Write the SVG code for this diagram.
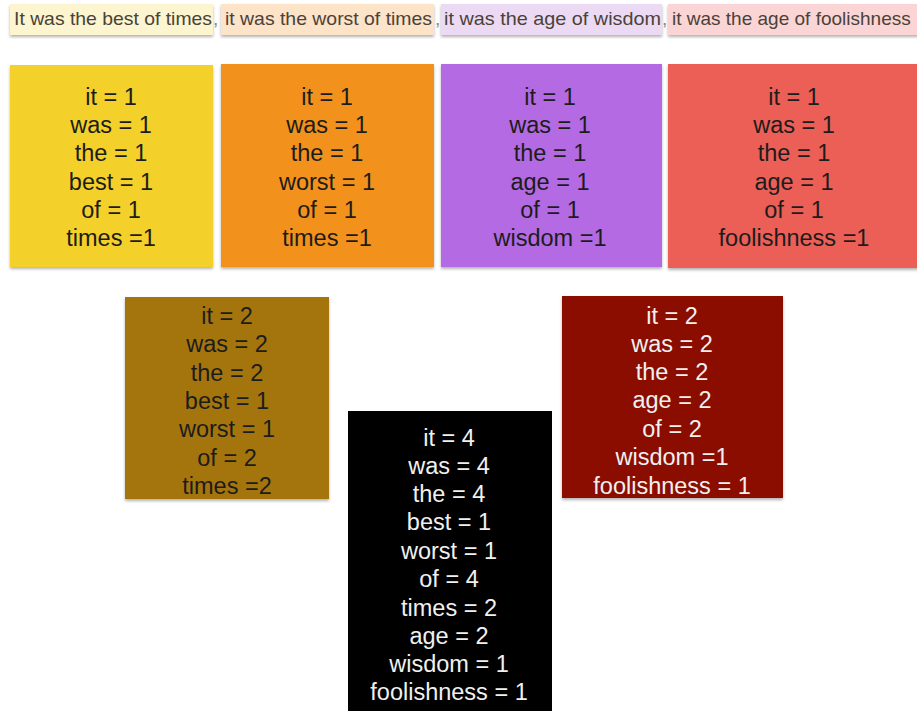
<svg xmlns="http://www.w3.org/2000/svg" width="917" height="711" viewBox="0 0 917 711">
<defs>
<filter id="sh" x="-5%" y="-5%" width="110%" height="115%">
<feDropShadow dx="0" dy="2" stdDeviation="1.5" flood-color="#000" flood-opacity="0.3"/>
</filter>
</defs>
<style>
text{font-family:"Liberation Sans",Arial,sans-serif;text-anchor:middle}
.hdr{font-size:19px;fill:#4a4238;text-anchor:start}
.cm{font-size:19px;fill:#888;text-anchor:start}
.t{font-size:23.5px;fill:#1c1c1c}
.w{font-size:23.5px;fill:#f0f0f0}
</style>
<rect width="917" height="711" fill="#fff"/>
<g id="sentence">
<rect x="10" y="4" width="203" height="31" fill="#fcf5d0" filter="url(#sh)"/>
<rect x="221" y="4" width="213" height="31" fill="#fde3c8" filter="url(#sh)"/>
<rect x="441" y="4" width="221" height="31" fill="#ecdaf5" filter="url(#sh)"/>
<rect x="668" y="4" width="252" height="31" fill="#fbd5d5" filter="url(#sh)"/>
<text class="hdr" x="14" y="25" textLength="198" lengthAdjust="spacingAndGlyphs">It was the best of times</text>
<text class="cm" x="213" y="25">,</text>
<text class="hdr" x="225" y="25" textLength="207" lengthAdjust="spacingAndGlyphs">it was the worst of times</text>
<text class="cm" x="435" y="25">,</text>
<text class="hdr" x="444" y="25" textLength="217" lengthAdjust="spacingAndGlyphs">it was the age of wisdom</text>
<text class="cm" x="662" y="25">,</text>
<text class="hdr" x="672" y="25">it was the age of foolishness</text>
</g>
<g id="map1">
<rect x="10" y="65" width="203" height="202" fill="#f4d02a" filter="url(#sh)"/>
<text class="t" x="111" y="105">it = 1</text>
<text class="t" x="111" y="133">was = 1</text>
<text class="t" x="111" y="161">the = 1</text>
<text class="t" x="111" y="190">best = 1</text>
<text class="t" x="111" y="218">of = 1</text>
<text class="t" x="111" y="246">times =1</text>
</g>
<g id="map2">
<rect x="221" y="64" width="213" height="203" fill="#f2921c" filter="url(#sh)"/>
<text class="t" x="327" y="105">it = 1</text>
<text class="t" x="327" y="133">was = 1</text>
<text class="t" x="327" y="161">the = 1</text>
<text class="t" x="327" y="190">worst = 1</text>
<text class="t" x="327" y="218">of = 1</text>
<text class="t" x="327" y="246">times =1</text>
</g>
<g id="map3">
<rect x="441" y="64" width="221" height="203" fill="#b36ae2" filter="url(#sh)"/>
<text class="t" x="550" y="105">it = 1</text>
<text class="t" x="550" y="133">was = 1</text>
<text class="t" x="550" y="161">the = 1</text>
<text class="t" x="550" y="190">age = 1</text>
<text class="t" x="550" y="218">of = 1</text>
<text class="t" x="550" y="246">wisdom =1</text>
</g>
<g id="map4">
<rect x="668" y="64" width="252" height="204" fill="#ec5e57" filter="url(#sh)"/>
<text class="t" x="794" y="105">it = 1</text>
<text class="t" x="794" y="133">was = 1</text>
<text class="t" x="794" y="161">the = 1</text>
<text class="t" x="794" y="190">age = 1</text>
<text class="t" x="794" y="218">of = 1</text>
<text class="t" x="794" y="246">foolishness =1</text>
</g>
<g id="reduce1">
<rect x="125" y="297" width="204" height="202" fill="#a57511" filter="url(#sh)"/>
<text class="t" x="227" y="324">it = 2</text>
<text class="t" x="227" y="352">was = 2</text>
<text class="t" x="227" y="381">the = 2</text>
<text class="t" x="227" y="409">best = 1</text>
<text class="t" x="227" y="437">worst = 1</text>
<text class="t" x="227" y="466">of = 2</text>
<text class="t" x="227" y="494">times =2</text>
</g>
<g id="reduce2">
<rect x="562" y="296" width="221" height="202" fill="#8a1100" filter="url(#sh)"/>
<text class="w" x="672" y="324">it = 2</text>
<text class="w" x="672" y="352">was = 2</text>
<text class="w" x="672" y="380">the = 2</text>
<text class="w" x="672" y="408">age = 2</text>
<text class="w" x="672" y="437">of = 2</text>
<text class="w" x="672" y="465">wisdom =1</text>
<text class="w" x="672" y="494">foolishness = 1</text>
</g>
<g id="final">
<rect x="348" y="411" width="204" height="300" fill="#000"/>
<text class="w" x="449" y="446">it = 4</text>
<text class="w" x="449" y="474">was = 4</text>
<text class="w" x="449" y="502">the = 4</text>
<text class="w" x="449" y="530">best = 1</text>
<text class="w" x="449" y="559">worst = 1</text>
<text class="w" x="449" y="587">of = 4</text>
<text class="w" x="449" y="616">times = 2</text>
<text class="w" x="449" y="644">age = 2</text>
<text class="w" x="449" y="672">wisdom = 1</text>
<text class="w" x="449" y="700">foolishness = 1</text>
</g>
<g id="connectors"></g>
</svg>
